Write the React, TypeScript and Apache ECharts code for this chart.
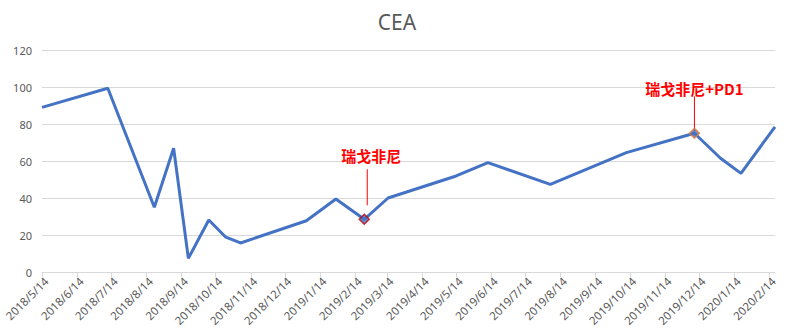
import React, { useEffect, useRef } from "react";
import * as echarts from "echarts";

const dates = [
  "2018/5/14", "2018/7/11", "2018/8/21", "2018/9/7", "2018/9/20", "2018/10/8",
  "2018/10/23", "2018/11/5", "2019/1/2", "2019/1/28", "2019/2/22", "2019/3/15",
  "2019/5/14", "2019/6/11", "2019/8/5", "2019/10/11", "2019/12/10", "2020/1/2",
  "2020/1/20", "2020/2/19",
];
const values = [
  89, 99.3, 35, 66.9, 7.4, 28.1, 18.8, 15.7, 27.7, 39.5, 28.5, 40, 51.9, 59.1,
  47.4, 64.5, 75, 61.5, 53.3, 78.5,
];
const tickLabels = [
  "2018/5/14", "2018/6/14", "2018/7/14", "2018/8/14", "2018/9/14", "2018/10/14",
  "2018/11/14", "2018/12/14", "2019/1/14", "2019/2/14", "2019/3/14", "2019/4/14",
  "2019/5/14", "2019/6/14", "2019/7/14", "2019/8/14", "2019/9/14", "2019/10/14",
  "2019/11/14", "2019/12/14", "2020/1/14", "2020/2/14",
];
const annotations = [
  { date: "2019/2/22", value: 28.5, text: "瑞戈非尼", border: "#C00000" },
  { date: "2019/12/10", value: 75, text: "瑞戈非尼+PD1", border: "#ED7D31" },
];

const ts = (s: string) => {
  const [y, m, d] = s.split("/").map(Number);
  return new Date(y, m - 1, d).getTime();
};
const fmt = (v: number) => {
  const d = new Date(v);
  return `${d.getFullYear()}/${d.getMonth() + 1}/${d.getDate()}`;
};

export default function App() {
  const ref = useRef<HTMLDivElement>(null);
  useEffect(() => {
    if (!ref.current) return;
    const chart = echarts.init(ref.current, null, { renderer: "svg" });
    const tickVals = tickLabels.map(ts);
    chart.setOption({
      animation: false,
      title: {
        text: "CEA",
        left: "center",
        top: 6,
        textStyle: { fontFamily: "Noto Sans", fontSize: 21, fontWeight: "normal", color: "#595959" },
      },
      grid: { left: 42, right: 19, top: 50, bottom: 61, containLabel: false, outerBoundsMode: "none" },
      xAxis: {
        type: "value",
        min: ts(dates[0]),
        max: ts(dates[dates.length - 1]),
        splitLine: { show: false },
        axisLine: { show: true, lineStyle: { color: "#d9d9d9", width: 1 } },
        axisTick: { show: true, customValues: tickVals, length: 5, lineStyle: { color: "#d9d9d9" } },
        axisLabel: {
          customValues: tickVals,
          formatter: (v: number) => fmt(v),
          rotate: 45,
          align: "right",
          verticalAlign: "top",
          fontFamily: "Noto Sans",
          fontSize: 11.5,
          color: "#595959",
          margin: 3,
        },
      },
      yAxis: {
        type: "value",
        min: 0,
        max: 120,
        interval: 20,
        axisLine: { show: false },
        axisTick: { show: false },
        splitLine: { lineStyle: { color: "#d9d9d9", width: 1 } },
        axisLabel: { fontFamily: "Noto Sans", fontSize: 11, color: "#595959", margin: 10 },
      },
      series: [
        {
          type: "line",
          data: dates.map((d, i) => [ts(d), values[i]]),
          showSymbol: false,
          symbol: "none",
          lineStyle: { color: "#4472C4", width: 3 },
          z: 2,
        },
        {
          type: "scatter",
          data: annotations.map((a) => ({
            value: [ts(a.date), a.value],
            itemStyle: { color: "#4472C4", borderColor: a.border, borderWidth: 1.5 },
          })),
          symbol: "diamond",
          symbolSize: 10,
          z: 3,
        },
      ],
    });
    const offsets = [
      { lineBottom: 14, lineTop: 50, textGap: 64, dx: 3, tdx: 7 },
      { lineBottom: 2, lineTop: 37, textGap: 45, dx: 0, tdx: 0 },
    ];
    const graphics: any[] = [];
    annotations.forEach((a, i) => {
      const p = chart.convertToPixel({ xAxisIndex: 0, yAxisIndex: 0 }, [ts(a.date), a.value]) as number[];
      const o = offsets[i];
      graphics.push({
        type: "line",
        shape: { x1: p[0] + o.dx, y1: p[1] - o.lineBottom, x2: p[0] + o.dx, y2: p[1] - o.lineTop },
        style: { stroke: "#FF0000", lineWidth: 1 },
      });
      graphics.push({
        type: "text",
        x: p[0] + o.tdx,
        y: p[1] - o.textGap,
        style: {
          text: a.text,
          fill: "#FF0000",
          font: "bold 15px 'Noto Sans CJK SC', 'Noto Sans'",
          textAlign: "center",
          textVerticalAlign: "middle",
        },
      });
    });
    chart.setOption({ graphic: graphics });
    return () => chart.dispose();
  }, []);
  return <div ref={ref} style={{ width: 794, height: 333, position: "absolute", left: 0, top: 0 }} />;
}
